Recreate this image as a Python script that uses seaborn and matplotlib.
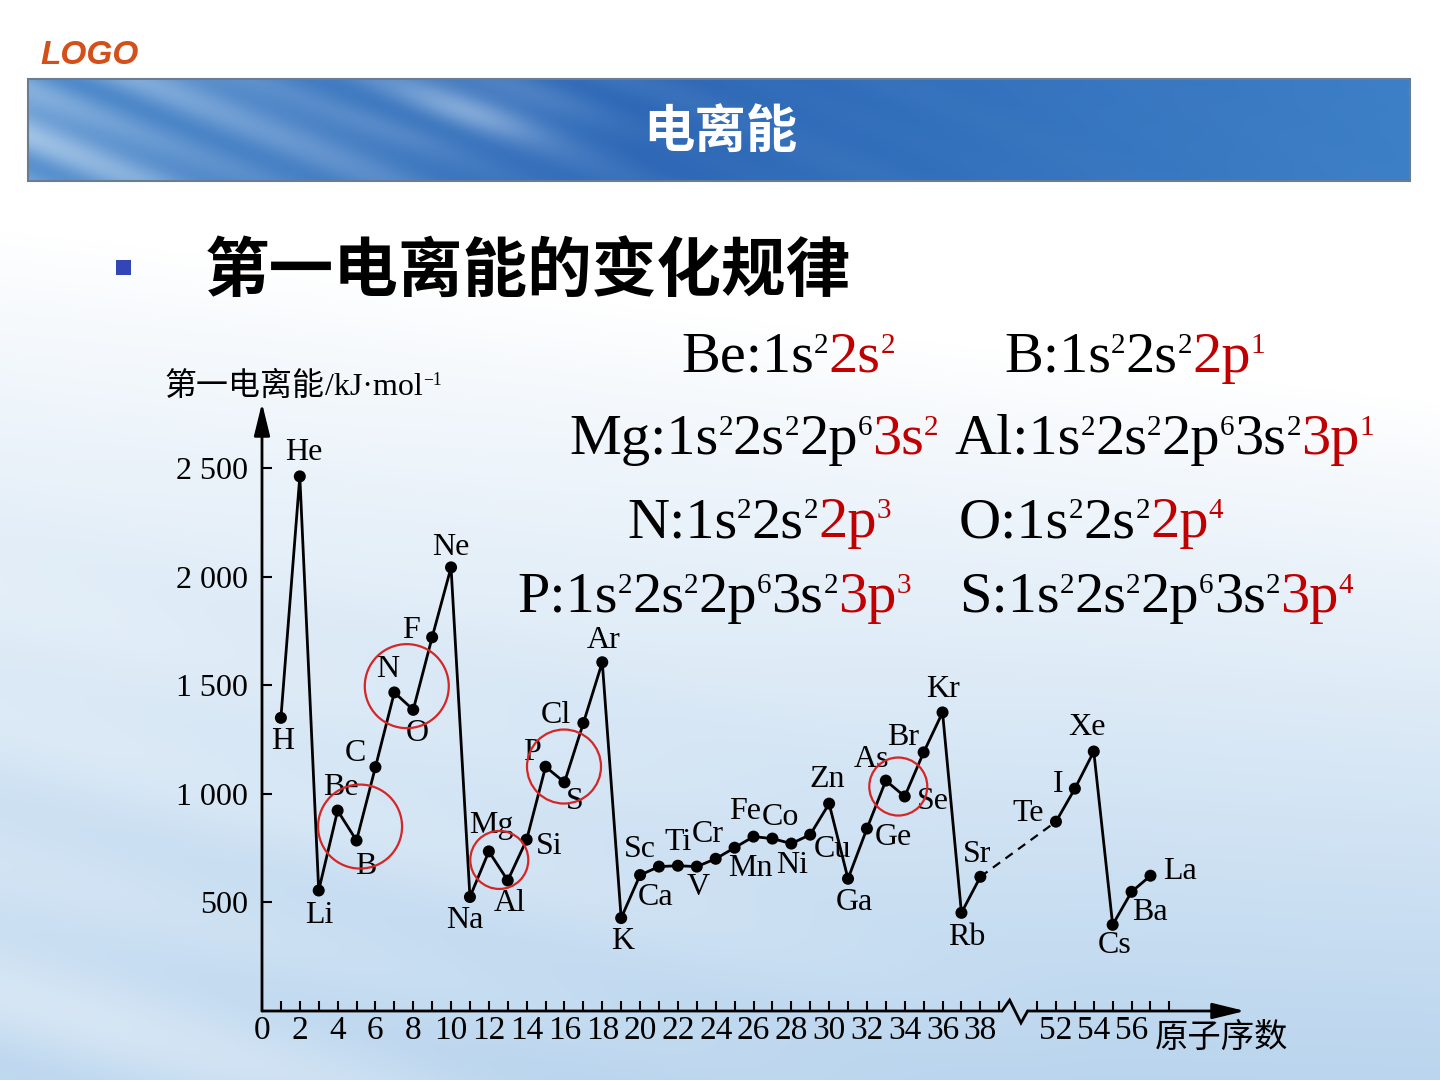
"""First ionisation energy vs atomic number (slide recreation)"""

import numpy as np
import pandas as pd
import seaborn as sns
import matplotlib.pyplot as plt
from matplotlib.transforms import IdentityTransform
from matplotlib.patches import Rectangle, Circle

W, H = 1440, 1080

# values (kJ/mol)
elements = ['H', 'He', 'Li', 'Be', 'B', 'C', 'N', 'O', 'F', 'Ne',
            'Na', 'Mg', 'Al', 'Si', 'P', 'S', 'Cl', 'Ar',
            'K', 'Ca', 'Sc', 'Ti', 'V', 'Cr', 'Mn', 'Fe', 'Co', 'Ni', 'Cu', 'Zn',
            'Ga', 'Ge', 'As', 'Se', 'Br', 'Kr',
            'Rb', 'Sr', 'Te', 'I', 'Xe', 'Cs', 'Ba', 'La']
atomic_numbers = list(range(1, 39)) + [52, 53, 54, 55, 56, 57]
first_ie = [1350, 2462, 555, 923, 785, 1123, 1467, 1387, 1721, 2043,
            525, 735, 601, 789, 1125, 1053, 1326, 1606,
            428, 626, 665, 669, 665, 701, 752, 803, 794, 771, 812, 955,
            609, 840, 1061, 988, 1191, 1375,
            452, 618, 872, 1024, 1195, 397, 549, 623]

# label offsets from each point (pixels, +y up)
label_offsets = [(2, -24), (4, 24), (1, -25), (3, 23), (9, -26), (-20, 14), (-7, 23), (4, -24), (-21, 7), (0, 20),
                 (-5, -23), (3, 26), (2, -23), (23, -7), (-14, 14), (10, -19), (-27, 8), (1, 22),
                 (2, -23), (15, -22), (-19, 17), (0, 23), (1, -21), (-8, 24), (16, -21), (-8, 25), (8, 21),
                 (1, -22), (22, -15), (-2, 24), (6, -24), (26, -9), (-14, 21), (28, -5), (-21, 15), (0, 23),
                 (5, -25), (-3, 22), (-28, 8), (-17, 4), (-7, 24), (2, -21), (18, -21), (30, 4)]

# highlighted pairs: (first, second, radius px, dx, dy)
circle_pairs = [('Be', 'B', 42, 13, -1), ('N', 'O', 42, 3, 15), ('Mg', 'Al', 29, 1, 6),
                ('P', 'S', 37, 9, 8), ('As', 'Se', 29, 3, 2)]

xtick_values = list(range(0, 40, 2)) + [52, 54, 56]
ytick_values = [500, 1000, 1500, 2000, 2500]
ytick_labels = ['500', '1 000', '1 500', '2 000', '2 500']

# electron configurations: "|" splits black / red part, "^" marks a superscript
configs = [('Be:1s^2|2s^2', 681, 372), ('B:1s^22s^2|2p^1', 1004, 372),
           ('Mg:1s^22s^22p^6|3s^2', 569, 454), ('Al:1s^22s^22p^63s^2|3p^1', 954, 454),
           ('N:1s^22s^2|2p^3', 627, 537), ('O:1s^22s^2|2p^4', 959, 537),
           ('P:1s^22s^22p^63s^2|3p^3', 517, 612), ('S:1s^22s^22p^63s^2|3p^4', 959, 612)]

SERIF = ['Liberation Serif', 'Noto Sans CJK SC']
CJK = ['Noto Sans CJK SC', 'DejaVu Sans']
RED = '#c00000'


def axis_pos(z):
    """Atomic number -> position on the broken x axis."""
    return np.where(np.asarray(z) > 38, np.asarray(z) - 10, np.asarray(z))


def make_background():
    yy, xx = np.mgrid[0:H, 0:W].astype(float)
    # whiter at the top right, bluer towards the bottom
    t = np.clip((yy - 230 - 0.12 * xx) / (850 - 0.1 * xx), 0, 1) ** 0.9
    top = np.array([1.0, 1.0, 1.0])
    bot = np.array([0.72, 0.83, 0.93])
    img = top * (1 - t[..., None]) + bot * t[..., None]
    streak = 0.5 + 0.5 * np.sin((yy - 0.3 * xx) / 30.0) * np.sin((yy - 0.22 * xx) / 71.0)
    w = t * np.clip(1.1 - xx / 1000, 0, 1) * 0.4
    img = img + (1 - img) * (streak * w)[..., None]

    # title banner
    bx0, bx1, by0, by1 = 28, 1410, 79, 181
    u = (xx - bx0) / (bx1 - bx0)
    c_left = np.array([0.32, 0.55, 0.80])
    c_mid = np.array([0.17, 0.40, 0.71])
    c_right = np.array([0.24, 0.50, 0.78])
    band = np.where(u[..., None] < 0.45,
                    c_left + (c_mid - c_left) * np.clip(u / 0.45, 0, 1)[..., None],
                    c_mid + (c_right - c_mid) * np.clip((u - 0.45) / 0.55, 0, 1)[..., None])
    s = 0.5 + 0.5 * np.sin((yy - 0.42 * xx) / 11.0) * np.sin((yy - 0.35 * xx) / 29.0)
    env = np.exp(-(xx - bx0) / 300.0) * 0.55 + np.exp(-((xx - 470) / 110.0) ** 2 - ((yy - 110) / 35.0) ** 2) * 0.3
    band = band + (np.array([0.90, 0.95, 0.99]) - band) * np.clip(s * env, 0, 0.9)[..., None]
    mask = (xx >= bx0) & (xx <= bx1) & (yy >= by0) & (yy <= by1)
    img[mask] = band[mask]
    return np.clip(img, 0, 1)


def parse_config(spec):
    """Split a config string into (text, colour, is_superscript) runs."""
    runs = []
    for part, color in zip(spec.split('|'), ['black', RED]):
        i = 0
        while i < len(part):
            if part[i] == '^':
                runs.append((part[i + 1], color, True))
                i += 2
            else:
                j = i
                while j < len(part) and part[j] != '^':
                    j += 1
                runs.append((part[i:j], color, False))
                i = j
    return runs


def draw_runs(fig, renderer, x, y, runs, size, family, sup_scale=0.5):
    """Draw text pieces side by side on one baseline; x, y in image pixels."""
    px = size * fig.dpi / 72
    for text, color, sup in runs:
        fs = size * sup_scale if sup else size
        yb = H - y + (0.32 * px if sup else 0)
        t = fig.text(x, yb, text, transform=IdentityTransform(), fontsize=fs,
                     color=color, family=family, ha='left', va='baseline')
        x += t.get_window_extent(renderer).width


def main():
    sns.set_style('white')
    plt.rcParams['font.family'] = SERIF

    fig = plt.figure(figsize=(W / 100, H / 100), dpi=100)
    renderer = fig.canvas.get_renderer()

    bg = fig.add_axes([0, 0, 1, 1], zorder=-10)
    bg.imshow(make_background(), aspect='auto', interpolation='bilinear')
    bg.set_axis_off()
    fig.add_artist(Rectangle((28, H - 181), 1382, 102, transform=IdentityTransform(),
                             fill=False, edgecolor='#6b7c8e', lw=1.5))

    fig.text(40, H - 55, 'LOGO', transform=IdentityTransform(), fontsize=24,
             family='Liberation Sans', weight='bold', style='italic', color='#d4501a',
             ha='left', va='center')
    fig.text(720, H - 131, '电离能', transform=IdentityTransform(), fontsize=37,
             family=CJK, weight='bold', color='white', ha='center', va='center')
    fig.add_artist(Rectangle((116, H - 275), 15, 15, transform=IdentityTransform(),
                             facecolor='#3446b6', edgecolor='none'))
    fig.text(205, H - 272, '第一电离能的变化规律', transform=IdentityTransform(), fontsize=46.5,
             family=CJK, weight='bold', color='black', ha='left', va='center')

    for spec, x, y in configs:
        draw_runs(fig, renderer, x, y, parse_config(spec), 42, SERIF)

    # chart
    df = pd.DataFrame({'element': elements, 'z': atomic_numbers, 'ie': first_ie})
    df['pos'] = axis_pos(df['z'])
    df['segment'] = np.where(df['z'] > 38, 'after', 'before')

    x0, y0, x1, y1 = 262, 1011, 1245, 403
    ax = fig.add_axes([x0 / W, (H - y0) / H, (x1 - x0) / W, (y0 - y1) / H])
    ax.set_facecolor('none')
    ax.set_xlim(0, 52)
    ax.set_ylim(0, 2800)

    sns.lineplot(data=df, x='pos', y='ie', units='segment', estimator=None, sort=False,
                 color='black', lw=2.0, ax=ax, legend=False)
    link = df[df['z'].isin([38, 52])]
    sns.lineplot(data=link, x='pos', y='ie', estimator=None, sort=False, color='black',
                 lw=1.6, linestyle=(0, (4, 3)), ax=ax, legend=False)
    sns.scatterplot(data=df, x='pos', y='ie', color='black', s=75, edgecolor='none',
                    zorder=3, ax=ax, legend=False)

    for (_, row), (dx, dy) in zip(df.iterrows(), label_offsets):
        ax.annotate(row['element'], (row['pos'], row['ie']), xytext=(dx, dy),
                    textcoords='offset pixels', ha='center', va='center',
                    fontsize=23, family=SERIF, color='black')

    lookup = df.set_index('element')
    for a, b, r, dx, dy in circle_pairs:
        mid = lookup.loc[[a, b], ['pos', 'ie']].mean().values
        cx, cy = ax.transData.transform(mid)
        fig.add_artist(Circle((cx + dx, cy + dy), r, transform=IdentityTransform(),
                              fill=False, edgecolor='#d42626', lw=1.6, zorder=5))

    # axes with arrows and a break
    for sp in ax.spines.values():
        sp.set_visible(False)
    arrow = dict(arrowstyle='-|>,head_length=0.9,head_width=0.22', color='black', lw=2.0,
                 shrinkA=0, shrinkB=0, mutation_scale=22)
    ax.annotate('', xy=(0, 2800), xytext=(0, 0), arrowprops=arrow, annotation_clip=False)
    ax.plot([0, 39.15, 39.55, 40.15, 40.5], [0, 0, 50, -55, 0], color='black', lw=2.0,
            clip_on=False, solid_joinstyle='miter')
    ax.annotate('', xy=(52, 0), xytext=(40.5, 0), arrowprops=arrow, annotation_clip=False)

    ax.set_xticks(axis_pos(xtick_values))
    ax.set_xticklabels([str(v) for v in xtick_values])
    minor = [p for p in range(1, 49) if p != 40 and p not in axis_pos(xtick_values)]
    ax.set_xticks(minor, minor=True)
    ax.set_yticks(ytick_values)
    ax.set_yticklabels(ytick_labels)
    ax.tick_params(axis='both', which='both', direction='in', length=7, width=1.5,
                   color='black', labelcolor='black', bottom=True, left=True)
    ax.tick_params(axis='x', labelsize=24, pad=3)
    ax.tick_params(axis='y', labelsize=23, pad=10)
    ax.set_xlabel('')
    ax.set_ylabel('')

    draw_runs(fig, renderer, 165, 395,
              [('第一电离能', 'black', False), ('/kJ·mol', 'black', False), ('−1', 'black', True)],
              23, SERIF, sup_scale=0.55)
    fig.text(1155, H - 1037, '原子序数', transform=IdentityTransform(), fontsize=24,
             family=CJK, color='black', ha='left', va='center')

    plt.savefig('out.png', dpi=100)


if __name__ == '__main__':
    main()
